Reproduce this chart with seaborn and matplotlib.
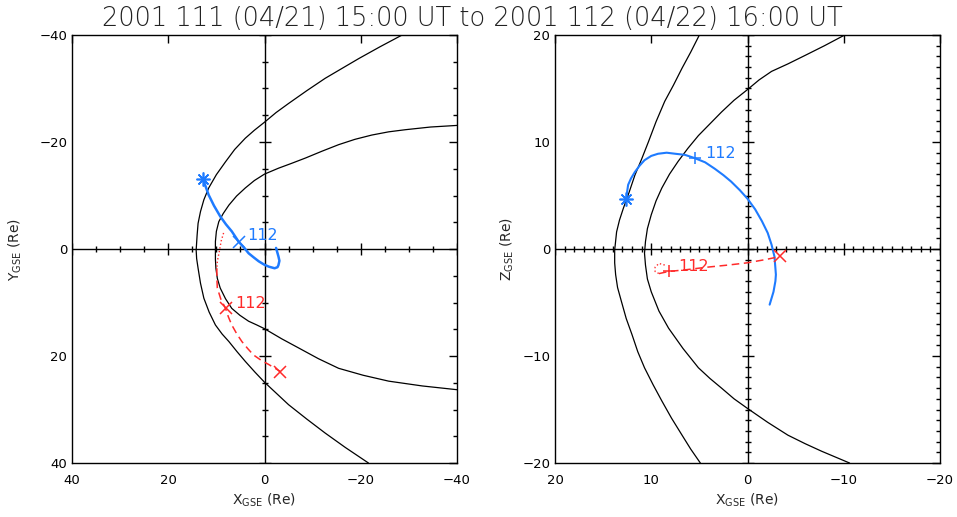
import numpy as np
import pandas as pd
import matplotlib
matplotlib.use("Agg")
import matplotlib.pyplot as plt
import seaborn as sns

# ---------------------------------------------------------------------------
# Data (units: Re, GSE)
# ---------------------------------------------------------------------------

TITLE = "2001 111 (04/21) 15:00 UT to 2001 112 (04/22) 16:00 UT"

# XY plane: bow shock and magnetopause
bs_xy_x = [-28.6, -24.0, -19.6, -16.0, -12.6, -8.8, -5.0, -2.4, 0.0, 2.1, 4.0, 6.2,
           8.1, 10.0, 11.6, 12.6, 13.3, 13.8, 14.0, 14.2, 14.1, 13.8, 13.3, 12.6,
           11.5, 10.2, 8.8, 7.4, 5.7, 4.0, 2.0, 0.0, -2.5, -5.0, -8.8, -12.6,
           -16.8, -21.6]
bs_xy_y = [-40.0, -37.8, -35.6, -33.7, -31.9, -29.6, -27.2, -25.5, -23.7, -22.2,
           -20.7, -18.6, -16.3, -13.9, -11.4, -9.2, -7.0, -4.8, -2.6, 0.2, 1.8, 3.6,
           6.4, 9.2, 11.8, 14.2, 15.9, 17.3, 19.2, 21.0, 23.0, 24.9, 27.0, 29.1,
           31.8, 34.4, 37.1, 40.0]
mp_xy_x = [-40.0, -34.5, -29.3, -25.8, -22.3, -18.8, -15.4, -12.0, -8.5, -5.6, -2.9,
           0.0, 2.1, 4.0, 5.8, 7.4, 8.6, 9.5, 10.0, 10.2, 10.2, 10.2, 10.1, 9.8, 9.2,
           8.1, 6.8, 5.1, 3.3, 1.6, 0.0, -3.6, -7.1, -11.2, -15.4, -20.5, -25.8,
           -32.8, -40.0]
mp_xy_y = [-23.1, -22.8, -22.3, -21.9, -21.3, -20.5, -19.5, -18.3, -17.0, -16.0,
           -15.1, -14.0, -12.8, -11.4, -9.9, -8.2, -6.6, -5.1, -3.3, -1.4, 0.2, 1.9,
           3.6, 5.5, 7.3, 9.3, 11.1, 12.4, 13.5, 14.2, 14.9, 16.8, 18.5, 20.5, 22.3,
           23.6, 24.7, 25.6, 26.3]

# XY plane: spacecraft tracks
blue_xy_x = [12.8, 12.2, 11.6, 10.5, 9.2, 8.0, 6.8, 5.4, 4.3, 3.3, 2.2, 1.2, 0.1,
             -0.9, -2.1, -2.7, -2.9, -3.1, -2.9, -2.4]
blue_xy_y = [-13.1, -11.6, -10.1, -8.1, -6.1, -4.6, -3.3, -1.4, -0.3, 0.8, 1.6,
             2.3, 2.9, 3.3, 3.6, 3.4, 3.0, 2.2, 1.4, -0.2]
red_dot_xy_x = [8.5, 9.0, 9.4, 9.8, 9.9]
red_dot_xy_y = [-3.0, -1.5, 0.5, 2.3, 3.6]
red_xy_x = [9.9, 9.9, 9.8, 9.1, 8.1, 7.5, 6.8, 5.8, 4.7, 3.5, 2.3, 0.7, -0.9, -3.3]
red_xy_y = [3.6, 5.5, 7.3, 9.3, 11.1, 12.7, 14.2, 15.8, 17.3, 18.6, 19.8, 20.8,
            21.6, 22.9]

# XZ plane: bow shock and magnetopause
bs_xz_x = [5.0, 5.9, 6.8, 7.7, 8.6, 9.5, 10.3, 11.0, 11.7, 12.3, 12.9, 13.3, 13.6,
           13.8, 13.8, 13.7, 13.5, 13.1, 12.6, 12.0, 11.4, 10.7, 9.8, 8.9, 7.9,
           6.8, 5.9, 4.9]
bs_xz_z = [20.0, 18.4, 16.9, 15.3, 13.8, 11.9, 10.0, 8.4, 6.9, 5.3, 3.8, 2.7, 1.6,
           -0.1, -1.3, -2.4, -3.6, -4.9, -6.5, -8.0, -9.6, -11.1, -12.7, -14.2,
           -15.8, -17.4, -18.7, -20.0]
mp_xz_x = [-10.1, -8.0, -6.0, -4.2, -2.5, -1.2, 0.0, 1.4, 2.7, 3.9, 5.1, 6.2, 7.2,
           8.1, 8.9, 9.5, 10.0, 10.4, 10.6, 10.7, 10.6, 10.4, 10.0, 9.2, 8.2, 6.7,
           5.1, 3.9, 2.7, 1.4, 0.0, -2.1, -4.2, -6.0, -7.7, -10.6]
mp_xz_z = [20.0, 19.0, 18.1, 17.3, 16.6, 15.8, 14.9, 13.9, 12.8, 11.7, 10.6, 9.4,
           8.2, 7.0, 5.7, 4.5, 3.2, 1.9, 0.7, -0.4, -1.5, -2.8, -4.0, -5.8, -7.4,
           -9.3, -11.1, -12.1, -13.0, -14.0, -14.9, -16.2, -17.4, -18.2, -18.9, -20.0]

# XZ plane: spacecraft tracks
blue_xz_x = [12.6, 12.5, 12.4, 12.1, 11.7, 11.2, 10.7, 10.0, 9.3, 8.4, 7.5, 6.5,
             5.5, 4.4, 3.4, 2.5, 1.7, 0.8, 0.0, -0.8, -1.5, -2.1, -2.5, -2.8, -2.9,
             -2.95, -2.9, -2.7, -2.3]
blue_xz_z = [4.7, 5.4, 6.0, 6.6, 7.2, 7.8, 8.3, 8.7, 8.9, 9.0, 8.9, 8.8, 8.5, 8.1,
             7.5, 6.9, 6.3, 5.5, 4.7, 3.7, 2.6, 1.5, 0.4, -0.7, -1.8, -2.4, -3.0,
             -4.0, -5.2]
red_dot_xz_x = [8.6, 9.2, 9.6, 9.6, 9.2]
red_dot_xz_z = [-1.5, -1.35, -1.7, -2.1, -2.3]
red_xz_x = [9.2, 8.2, 6.5, 4.2, 2.0, 0.1, -1.8, -3.4]
red_xz_z = [-2.3, -2.1, -1.95, -1.7, -1.5, -1.3, -1.0, -0.7]

# markers: start (*), day-112 tick, end (x)
blue_start_xy = (12.8, -13.1)
blue_tick_xy = (5.4, -1.4)
red_tick_xy = (8.1, 11.1)
red_end_xy = (-3.3, 22.9)
blue_start_xz = (12.6, 4.7)
blue_tick_xz = (5.5, 8.5)
red_tick_xz = (8.2, -2.1)
red_end_xz = (-3.4, -0.7)

# "112" label anchors (left edge, vertical centre)
blue_lab_xy = (3.6, -2.5)
red_lab_xy = (6.1, 10.1)
blue_lab_xz = (4.4, 8.9)
red_lab_xz = (7.2, -1.6)

BLUE = "#1E7BFF"
RED = "#FF2A2A"

# ---------------------------------------------------------------------------
# Style
# ---------------------------------------------------------------------------

sns.set_theme(style="white")
plt.rcParams.update({
    "font.family": ["DejaVu Sans"],
    "axes.edgecolor": "black",
    "axes.linewidth": 1.0,
    "xtick.direction": "in",
    "ytick.direction": "in",
    "xtick.top": True,
    "ytick.right": True,
    "xtick.color": "black",
    "ytick.color": "black",
    "xtick.labelsize": 9.5,
    "ytick.labelsize": 9.5,
    "xtick.major.size": 6,
    "ytick.major.size": 6,
    "xtick.minor.size": 3,
    "ytick.minor.size": 3,
    "xtick.major.width": 1.0,
    "ytick.major.width": 1.0,
    "xtick.minor.width": 1.0,
    "ytick.minor.width": 1.0,
    "xtick.major.pad": 8,
    "ytick.major.pad": 3.5,
})


def line(ax, xs, ys, **kw):
    df = pd.DataFrame({"x": xs, "y": ys})
    sns.lineplot(data=df, x="x", y="y", sort=False, estimator=None, ax=ax, **kw)


def setup_axes(ax, lim, major, minor, ylabel):
    ax.set_xlim(lim, -lim)
    ax.set_xticks(np.arange(-lim, lim + 1, major))
    ax.yaxis.set_major_locator(matplotlib.ticker.MultipleLocator(major))
    ax.yaxis.set_minor_locator(matplotlib.ticker.MultipleLocator(minor))
    ax.tick_params(which="both", top=True, right=True)
    ax.tick_params(axis="x", which="minor", top=False, bottom=False)
    ax.set_xlabel(r"X$_{\rm GSE}$ (Re)", fontsize=10, va="center")
    ax.set_ylabel(ylabel, fontsize=10, va="center")
    ax.xaxis.set_label_coords(0.5, -0.087)
    for s in ax.spines.values():
        s.set_visible(True)
    # axes through the origin, ticked every `minor` units
    ax.axhline(0, color="black", lw=1.0, zorder=1)
    ax.axvline(0, color="black", lw=1.0, zorder=1)
    t = np.arange(-lim, lim + 0.01, minor)
    big = np.isclose(np.mod(t, major), 0)
    z = np.zeros_like(t)
    ax.plot(t[~big], z[~big], ls="none", marker="|", ms=5, mew=1.0, color="black", zorder=1)
    ax.plot(t[big], z[big], ls="none", marker="|", ms=9, mew=1.0, color="black", zorder=1)
    ax.plot(z[~big], t[~big], ls="none", marker="_", ms=5, mew=1.0, color="black", zorder=1)
    ax.plot(z[big], t[big], ls="none", marker="_", ms=9, mew=1.0, color="black", zorder=1)


fig = plt.figure(figsize=(9.57, 5.17), dpi=100)
ax1 = fig.add_axes([72 / 957, 54 / 517, 385 / 957, 428 / 517])
ax2 = fig.add_axes([555 / 957, 54 / 517, 385 / 957, 428 / 517])

# ---- left: XY plane (Y axis inverted) ----
setup_axes(ax1, 40, 20, 5, r"Y$_{\rm GSE}$ (Re)")
ax1.set_ylim(40, -40)
ax1.yaxis.set_label_coords(-0.148, 0.5)

line(ax1, bs_xy_x, bs_xy_y, color="black", lw=0.9)
line(ax1, mp_xy_x, mp_xy_y, color="black", lw=0.9)
line(ax1, blue_xy_x, blue_xy_y, color=BLUE, lw=1.8)
line(ax1, red_dot_xy_x, red_dot_xy_y, color=RED, lw=1.0, linestyle=":")
line(ax1, red_xy_x, red_xy_y, color=RED, lw=1.1, dashes=(5, 3))
ax1.plot(*blue_start_xy, marker=(8, 2, 0), ms=10, mew=1.2, color=BLUE)
ax1.plot(*blue_tick_xy, marker="x", ms=8, mew=1.1, color=BLUE)
ax1.plot(*red_tick_xy, marker="x", ms=8, mew=1.1, color=RED)
ax1.plot(*red_end_xy, marker="x", ms=9, mew=1.1, color=RED)
ax1.text(*blue_lab_xy, "112", color=BLUE, fontsize=11.5, ha="left", va="center")
ax1.text(*red_lab_xy, "112", color=RED, fontsize=11.5, ha="left", va="center")

# ---- right: XZ plane ----
setup_axes(ax2, 20, 10, 1, r"Z$_{\rm GSE}$ (Re)")
ax2.set_ylim(-20, 20)
ax2.yaxis.set_label_coords(-0.125, 0.5)

line(ax2, bs_xz_x, bs_xz_z, color="black", lw=0.9)
line(ax2, mp_xz_x, mp_xz_z, color="black", lw=0.9)
line(ax2, blue_xz_x, blue_xz_z, color=BLUE, lw=1.5)
line(ax2, red_dot_xz_x, red_dot_xz_z, color=RED, lw=1.0, linestyle=":")
line(ax2, red_xz_x, red_xz_z, color=RED, lw=1.1, dashes=(5, 3))
ax2.plot(*blue_start_xz, marker=(8, 2, 0), ms=10, mew=1.2, color=BLUE)
ax2.plot(*blue_tick_xz, marker="+", ms=9, mew=1.1, color=BLUE)
ax2.plot(*red_tick_xz, marker="+", ms=9, mew=1.1, color=RED)
ax2.plot(*red_end_xz, marker="x", ms=9, mew=1.1, color=RED)
ax2.text(*blue_lab_xz, "112", color=BLUE, fontsize=11.5, ha="left", va="center")
ax2.text(*red_lab_xz, "112", color=RED, fontsize=11.5, ha="left", va="center")

fig.text(472 / 957, 1 - 18 / 517, TITLE, ha="center", va="center",
         fontsize=18.5, fontweight="light", color="#222222")

fig.savefig("out.png", dpi=100, facecolor="white")
